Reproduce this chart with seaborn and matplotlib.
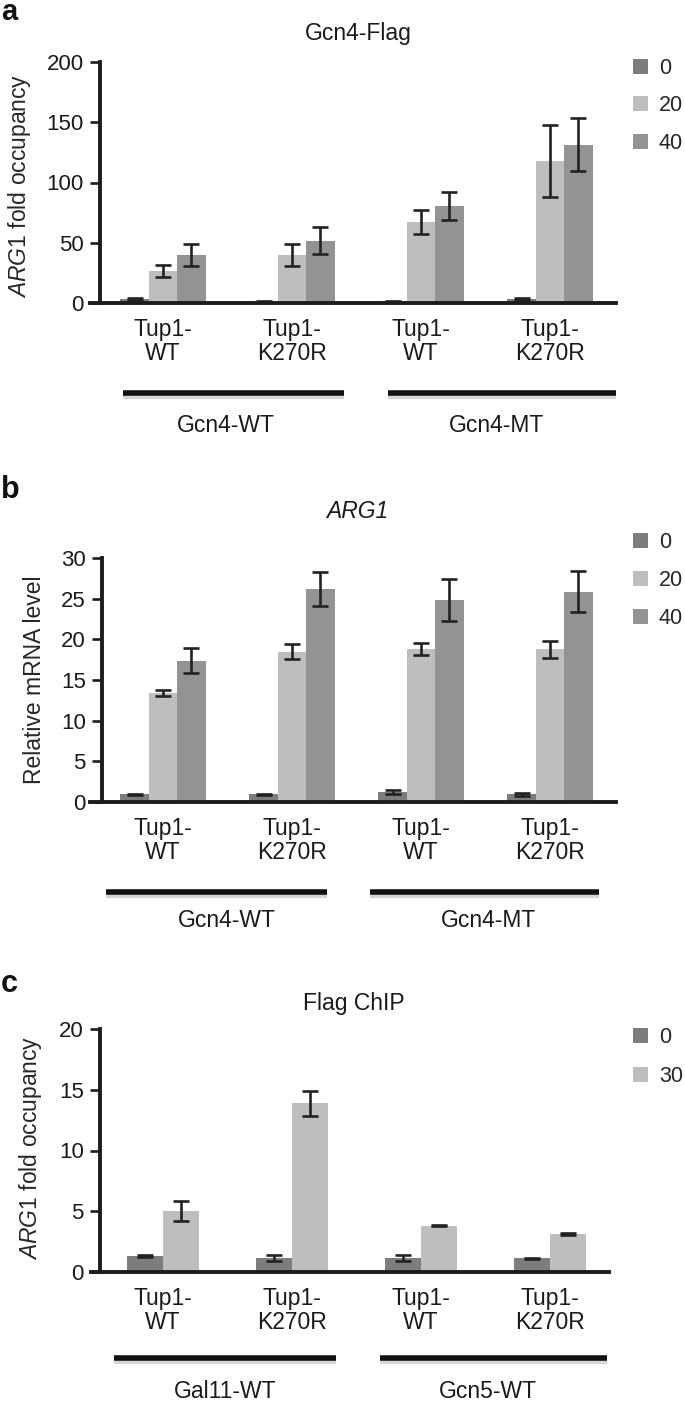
import numpy as np
import pandas as pd
import matplotlib
matplotlib.use("Agg")
import matplotlib.pyplot as plt
import seaborn as sns
from matplotlib.lines import Line2D

W, H = 685, 1401
sns.set_theme(style="white")
plt.rcParams["font.family"] = ["Liberation Sans", "DejaVu Sans"]
plt.rcParams["mathtext.fontset"] = "custom"
plt.rcParams["mathtext.rm"] = "Liberation Sans"
plt.rcParams["mathtext.it"] = "Liberation Sans:italic"

# ---------------- data ----------------
categories = ["Tup1-WT (A)", "Tup1-K270R (A)", "Tup1-WT (B)", "Tup1-K270R (B)"]
tick_labels = ["Tup1-\nWT", "Tup1-\nK270R", "Tup1-\nWT", "Tup1-\nK270R"]

# panel a: Gcn4-Flag, ARG1 fold occupancy
a_levels = ["0", "20", "40"]
a_0 = [3.0, 1.2, 1.0, 3.3]
a_0_err = [0.8, 0.3, 0.3, 0.8]
a_20 = [26.4, 39.7, 67.4, 117.9]
a_20_err = [4.8, 9.0, 10.0, 29.8]
a_40 = [39.7, 51.6, 80.7, 131.5]
a_40_err = [9.0, 11.5, 11.6, 22.3]
a_groups = ["Gcn4-WT", "Gcn4-MT"]

# panel b: ARG1 relative mRNA level
b_levels = ["0", "20", "40"]
b_0 = [0.9, 0.9, 1.2, 0.9]
b_0_err = [0.1, 0.1, 0.2, 0.15]
b_20 = [13.4, 18.5, 18.8, 18.8]
b_20_err = [0.4, 0.9, 0.75, 1.05]
b_40 = [17.4, 26.2, 24.9, 25.9]
b_40_err = [1.5, 2.05, 2.6, 2.5]
b_groups = ["Gcn4-WT", "Gcn4-MT"]

# panel c: Flag ChIP, ARG1 fold occupancy
c_levels = ["0", "30"]
c_0 = [1.3, 1.1, 1.1, 1.1]
c_0_err = [0.05, 0.25, 0.25, 0.05]
c_30 = [5.0, 13.9, 3.8, 3.1]
c_30_err = [0.8, 1.05, 0.05, 0.1]
c_groups = ["Gal11-WT", "Gcn5-WT"]

# ---------------- styling ----------------
col_0 = "#7d7d80"
col_20 = "#bdbec0"
col_40 = "#939396"
axis_col = "#1c1c1c"


def rect(l, r, t, b):
    return [l / W, 1 - b / H, (r - l) / W, (b - t) / H]


fig = plt.figure(figsize=(W / 100, H / 100), dpi=100)


def panel(box, levels, vals, errs, palette, width, xlim, spine_x, ylim, yticks,
          ylabel, ylab_x, ylab_y, legend_top, legend_pitch):
    ax = fig.add_axes(rect(*box))
    rows = []
    for lev, v in zip(levels, vals):
        for cat, val in zip(categories, v):
            rows.append({"group": cat, "time": lev, "value": val})
    df = pd.DataFrame(rows)
    sns.barplot(data=df, x="group", y="value", hue="time", order=categories,
                hue_order=levels, palette=palette, width=width, errorbar=None,
                saturation=1, linewidth=0, ax=ax)
    for cont, e in zip(ax.containers, errs):
        xs = [b.get_x() + b.get_width() / 2 for b in cont]
        ys = [b.get_height() for b in cont]
        ax.errorbar(xs, ys, yerr=e, fmt="none", ecolor="#222222",
                    elinewidth=1.9, capsize=5.8, capthick=1.9, zorder=5)
    ax.set_xlim(*xlim)
    ax.set_ylim(*ylim)
    ax.set_yticks(yticks)
    ax.set_xticks(range(len(categories)))
    ax.set_xticklabels(tick_labels, linespacing=1.05)
    ax.set_xlabel("")
    ax.set_ylabel(ylabel, fontsize=16.5)
    axw = box[1] - box[0]
    ax.yaxis.set_label_coords((ylab_x - box[0]) / axw, ylab_y)
    sns.despine(ax=ax)
    ax.spines["left"].set_position(("data", spine_x))
    ax.spines["left"].set_linewidth(2.8)
    ax.spines["left"].set_color(axis_col)
    ax.spines["bottom"].set_linewidth(2.8)
    ax.spines["bottom"].set_color(axis_col)
    ax.spines["bottom"].set_zorder(6)
    ax.tick_params(axis="y", left=True, length=7, width=1.9, pad=4.5,
                   labelsize=16, color=axis_col, labelcolor="#1a1a1a")
    ax.tick_params(axis="x", bottom=False, length=0, pad=11, labelsize=16.5,
                   labelcolor="#1a1a1a")
    ax.set_facecolor("none")
    handles, labels = ax.get_legend_handles_labels()
    ax.legend(handles, labels, loc="upper left",
              bbox_to_anchor=(633 / W, 1 - legend_top / H),
              bbox_transform=fig.transFigure, frameon=False, borderpad=0,
              borderaxespad=0, handlelength=0.7, handleheight=0.7,
              handletextpad=0.5, labelspacing=legend_pitch, fontsize=15.5)
    return ax


def group_bar(x0, x1, y, text, tx, ty):
    fig.add_artist(Line2D([x0 / W, x1 / W], [1 - (y + 3) / H, 1 - (y + 3) / H],
                          transform=fig.transFigure, color="#d6d6d6", lw=4.5,
                          solid_capstyle="butt"))
    fig.add_artist(Line2D([x0 / W, x1 / W], [1 - y / H, 1 - y / H],
                          transform=fig.transFigure, color="#111111", lw=4.0,
                          solid_capstyle="butt"))
    fig.text(tx / W, 1 - ty / H, text, ha="center", va="baseline",
             fontsize=16.5, color="#1a1a1a")


# panel a
axa = panel((89.6, 616, 62.3, 302.7), a_levels, [a_0, a_20, a_40],
            [a_0_err, a_20_err, a_40_err], [col_0, col_20, col_40], 0.66,
            (-0.569, 3.512), -0.491, (0, 200), [0, 50, 100, 150, 200],
            r"$\mathit{ARG1}$ fold occupancy", 33, 0.485, 58, 0.76)
fig.text(358 / W, 1 - 40 / H, "Gcn4-Flag", ha="center", va="baseline",
         fontsize=16.5, color="#1a1a1a")
fig.text(1 / W, 1 - 20 / H, "a", ha="left", va="baseline", fontsize=21,
         fontweight="bold", color="#111111")
group_bar(123, 344, 392.7, a_groups[0], 225.5, 432)
group_bar(388, 616, 392.7, a_groups[1], 496, 432)

# panel b
axb = panel((89.6, 616, 558.3, 801.7), b_levels, [b_0, b_20, b_40],
            [b_0_err, b_20_err, b_40_err], [col_0, col_20, col_40], 0.66,
            (-0.569, 3.512), -0.475, (0, 30), [0, 5, 10, 15, 20, 25, 30],
            "Relative mRNA level", 46, 0.5, 532, 0.8)
fig.text(357 / W, 1 - 518 / H, "ARG1", ha="center", va="baseline",
         fontsize=16.5, fontstyle="italic", color="#1a1a1a")
fig.text(1 / W, 1 - 498 / H, "b", ha="left", va="baseline", fontsize=22,
         fontweight="bold", color="#111111")
group_bar(106, 327, 892, b_groups[0], 226.5, 927)
group_bar(370, 599, 892, b_groups[1], 488, 927)

# panel c
axc = panel((91, 609, 1029.3, 1271.7), c_levels, [c_0, c_30],
            [c_0_err, c_30_err], [col_0, col_20], 0.56,
            (-0.558, 3.457), -0.49, (0, 20), [0, 5, 10, 15, 20],
            r"$\mathit{ARG1}$ fold occupancy", 44, 0.512, 1027, 0.85)
fig.text(354 / W, 1 - 1010 / H, "Flag ChIP", ha="center", va="baseline",
         fontsize=16.5, color="#1a1a1a")
fig.text(1 / W, 1 - 992 / H, "c", ha="left", va="baseline", fontsize=22,
         fontweight="bold", color="#111111")
group_bar(114, 336, 1358, c_groups[0], 225, 1398)
group_bar(380, 607, 1358, c_groups[1], 487.5, 1398)

fig.savefig("out.png", dpi=100, facecolor="white")
